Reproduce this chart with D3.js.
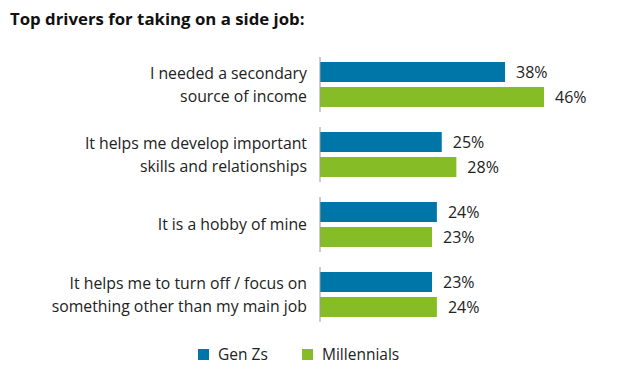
<!DOCTYPE html>
<html>
<head>
<meta charset="utf-8">
<script src="https://cdn.jsdelivr.net/npm/d3@7"></script>
<style>
  body { margin: 0; background: #fff; }
  svg { font-family: "Open Sans", sans-serif; }
</style>
</head>
<body>
<svg id="chart" width="617" height="374"></svg>
<script>
// data
var categories = [
  ["I needed a secondary", "source of income"],
  ["It helps me develop important", "skills and relationships"],
  ["It is a hobby of mine"],
  ["It helps me to turn off / focus on", "something other than my main job"]
];
var seriesNames = ["Gen Zs", "Millennials"];
var genZs = [38, 25, 24, 23];
var millennials = [46, 28, 23, 24];
var colors = ["#0076A8", "#86BC25"];

var svg = d3.select("#chart");
var keys = categories.map(function(d, i) { return "c" + i; });
var values = [genZs, millennials];

var x = d3.scaleLinear().domain([0, 50]).range([320, 563.5]);
var y0 = d3.scaleBand().domain(keys).range([62, 317]).paddingInner(25 / 70).paddingOuter(0);
var y1 = d3.scaleBand().domain(seriesNames).range([0, y0.bandwidth()]).paddingInner(0.2);

svg.append("text")
  .attr("x", 10).attr("y", 25)
  .style("font-weight", "bold").style("font-size", "16.8px").style("fill", "#111")
  .text("Top drivers for taking on a side job:");

var groups = svg.selectAll("g.grp").data(keys).enter().append("g")
  .attr("class", "grp")
  .attr("transform", function(k) { return "translate(0," + y0(k) + ")"; });

groups.each(function(k, i) {
  var g = d3.select(this);
  seriesNames.forEach(function(s, j) {
    var v = values[j][i];
    g.append("rect")
      .attr("x", x(0)).attr("y", y1(s))
      .attr("width", x(v) - x(0)).attr("height", y1.bandwidth())
      .style("fill", colors[j]);
    g.append("text")
      .attr("x", x(v) + 11).attr("y", y1(s) + y1.bandwidth() / 2 + 5.5)
      .style("font-size", "16px").style("fill", "#222")
      .text(v + "%");
  });
  // axis segment for this group
  g.append("line")
    .attr("x1", x(0)).attr("x2", x(0))
    .attr("y1", -5).attr("y2", y0.bandwidth() + 5)
    .style("stroke", "#999").style("stroke-width", 1);
  // category label
  var lines = categories[i];
  var cy = y0.bandwidth() / 2;
  lines.forEach(function(t, li) {
    g.append("text")
      .attr("x", 307).attr("y", cy + (li - (lines.length - 1) / 2) * 23 + 5.5)
      .attr("text-anchor", "end")
      .style("font-size", "15.8px").style("fill", "#222")
      .text(t);
  });
});

// legend
var legendX = [198, 302];
var lg = svg.selectAll("g.leg").data(seriesNames).enter().append("g")
  .attr("class", "leg")
  .attr("transform", function(d, i) { return "translate(" + legendX[i] + ",349)"; });
lg.append("rect").attr("width", 11).attr("height", 11)
  .style("fill", function(d, i) { return colors[i]; });
lg.append("text").attr("x", 20).attr("y", 11)
  .style("font-size", "15.5px").style("fill", "#222")
  .text(function(d) { return d; });
</script>
</body>
</html>
